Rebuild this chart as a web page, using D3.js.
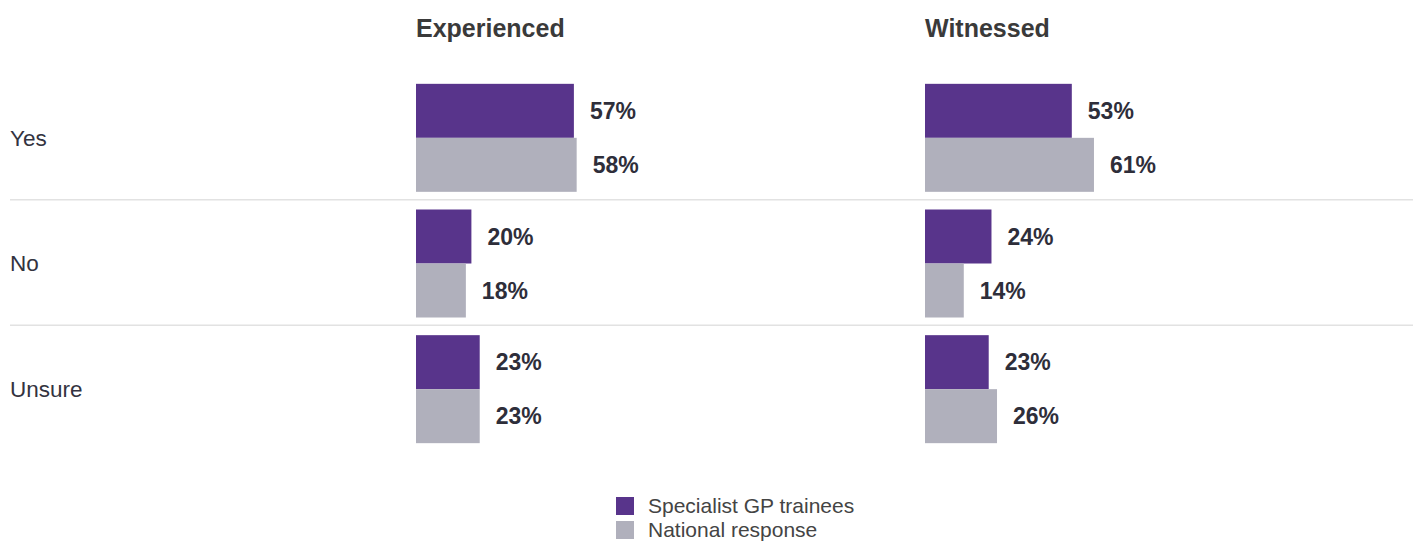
<!DOCTYPE html>
<html>
<head>
<meta charset="utf-8">
<script src="https://cdn.jsdelivr.net/npm/d3@7"></script>
<style>
  html, body { margin: 0; padding: 0; background: #fff; }
  svg { display: block; }
  text { font-family: "Liberation Sans", Arial, Helvetica, sans-serif; }
</style>
</head>
<body>
<svg id="chart" width="1413" height="543"></svg>
<script>
// ---- Data ----
const categories = ["Yes", "No", "Unsure"];
const panels = ["Experienced", "Witnessed"];
const seriesNames = ["Specialist GP trainees", "National response"];
const experiencedTrainees = [57, 20, 23];
const experiencedNational = [58, 18, 23];
const witnessedTrainees = [53, 24, 23];
const witnessedNational = [61, 14, 26];

const panelData = [
  { name: panels[0], series: [experiencedTrainees, experiencedNational] },
  { name: panels[1], series: [witnessedTrainees, witnessedNational] }
];
const colors = ["#58348b", "#b0b0bc"];

// ---- Layout ----
const W = 1413, H = 543;
const svg = d3.select("#chart");

const y = d3.scaleBand().domain(categories).range([75, 452]).paddingInner(0).paddingOuter(0);
const barH = 54;
const ySeries = d3.scaleBand().domain(d3.range(seriesNames.length)).range([0, barH * 2]);

const panelX = d3.scaleOrdinal().domain(panels).range([416, 925]);
const x = d3.scaleLinear().domain([0, 100]).range([0, 277]);

// separators
const seps = categories.slice(0, -1).map((c, i) => {
  const bottom = y(c) + y.bandwidth() / 2 + barH;
  const nextTop = y(categories[i + 1]) + y.bandwidth() / 2 - barH;
  return (bottom + nextTop) / 2 - 1;
});
svg.selectAll("line.sep").data(seps).join("line")
  .attr("class", "sep")
  .attr("x1", 10).attr("x2", W)
  .attr("y1", d => d).attr("y2", d => d)
  .attr("stroke", "#e2e2e2").attr("stroke-width", 1.5);

// row labels
svg.selectAll("text.row").data(categories).join("text")
  .attr("class", "row")
  .attr("x", 10)
  .attr("y", d => y(d) + y.bandwidth() / 2)
  .attr("dy", "0.35em")
  .attr("font-size", 22.5)
  .attr("fill", "#333340")
  .text(d => d);

// panels
panelData.forEach(p => {
  const x0 = panelX(p.name);
  const g = svg.append("g").attr("transform", `translate(${x0},0)`);
  g.append("text")
    .attr("x", 0).attr("y", 37)
    .attr("font-size", 25).attr("font-weight", "bold")
    .attr("fill", "#3a3a3a")
    .text(p.name);

  p.series.forEach((vals, si) => {
    const items = categories.map((c, i) => ({ c, v: vals[i] }));
    const top = c => y(c) + y.bandwidth() / 2 - barH + ySeries(si);
    g.selectAll(`rect.s${si}`).data(items).join("rect")
      .attr("class", `s${si}`)
      .attr("x", 0)
      .attr("y", d => top(d.c))
      .attr("width", d => x(d.v))
      .attr("height", ySeries.bandwidth())
      .attr("fill", colors[si]);
    g.selectAll(`text.v${si}`).data(items).join("text")
      .attr("class", `v${si}`)
      .attr("x", d => x(d.v) + 16)
      .attr("y", d => top(d.c) + ySeries.bandwidth() / 2)
      .attr("dy", "0.35em")
      .attr("font-size", 23).attr("font-weight", "bold")
      .attr("fill", "#2e2e3a")
      .text(d => d.v + "%");
  });
});

// legend
const leg = svg.append("g").attr("transform", "translate(616,497)");
const li = leg.selectAll("g").data(seriesNames).join("g")
  .attr("transform", (d, i) => `translate(0,${i * 24})`);
li.append("rect").attr("width", 18).attr("height", 18).attr("fill", (d, i) => colors[i]);
li.append("text").attr("x", 32).attr("y", 9).attr("dy", "0.35em")
  .attr("font-size", 21).attr("fill", "#444")
  .text(d => d);
</script>
</body>
</html>
